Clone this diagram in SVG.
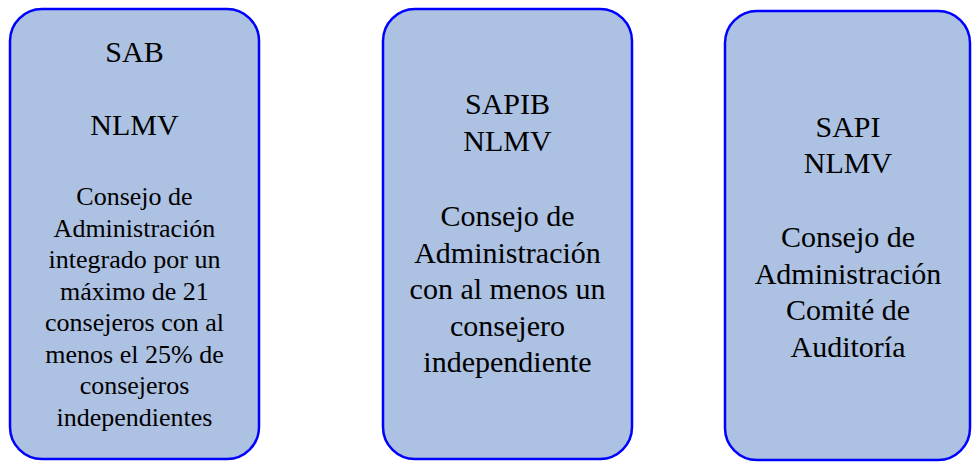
<svg xmlns="http://www.w3.org/2000/svg" width="973" height="462" viewBox="0 0 973 462" font-family="'Liberation Serif', 'Times New Roman', Tinos, 'DejaVu Serif', serif">
<style>
.box{fill:#ADC1E2;stroke:#0000FF;stroke-width:2.5}
.t{fill:#000;text-anchor:middle}
.h{font-size:30px}
.b1{font-size:26px}
.b{font-size:30px}
</style>
<rect width="973" height="462" fill="#FFFFFF"/>
<g id="node-sab">
<rect class="box" x="10" y="9" width="249" height="450" rx="32" ry="32"/>
<text class="t h" x="134.5" y="62">SAB</text>
<text class="t h" x="134.5" y="135">NLMV</text>
<text class="t b1" x="134.5" y="205">Consejo de</text>
<text class="t b1" x="134.5" y="236.5">Administración</text>
<text class="t b1" x="134.5" y="268">integrado por un</text>
<text class="t b1" x="134.5" y="299.5">máximo de 21</text>
<text class="t b1" x="134.5" y="331">consejeros con al</text>
<text class="t b1" x="134.5" y="362.5">menos el 25% de</text>
<text class="t b1" x="134.5" y="394">consejeros</text>
<text class="t b1" x="134.5" y="425.5">independientes</text>
</g>
<g id="node-sapib">
<rect class="box" x="383" y="9" width="249" height="450" rx="32" ry="32"/>
<text class="t h" x="507.5" y="114">SAPIB</text>
<text class="t h" x="507.5" y="151">NLMV</text>
<text class="t b" x="507.5" y="226">Consejo de</text>
<text class="t b" x="507.5" y="262.5">Administración</text>
<text class="t b" x="507.5" y="299">con al menos un</text>
<text class="t b" x="507.5" y="335.5">consejero</text>
<text class="t b" x="507.5" y="372">independiente</text>
</g>
<g id="node-sapi">
<rect class="box" x="725" y="11" width="245" height="449" rx="32" ry="32"/>
<text class="t h" x="848" y="137">SAPI</text>
<text class="t h" x="848" y="173">NLMV</text>
<text class="t b" x="848" y="247">Consejo de</text>
<text class="t b" x="848" y="283.5">Administración</text>
<text class="t b" x="848" y="320">Comité de</text>
<text class="t b" x="848" y="356.5">Auditoría</text>
</g>
<g id="connectors"></g>
</svg>
